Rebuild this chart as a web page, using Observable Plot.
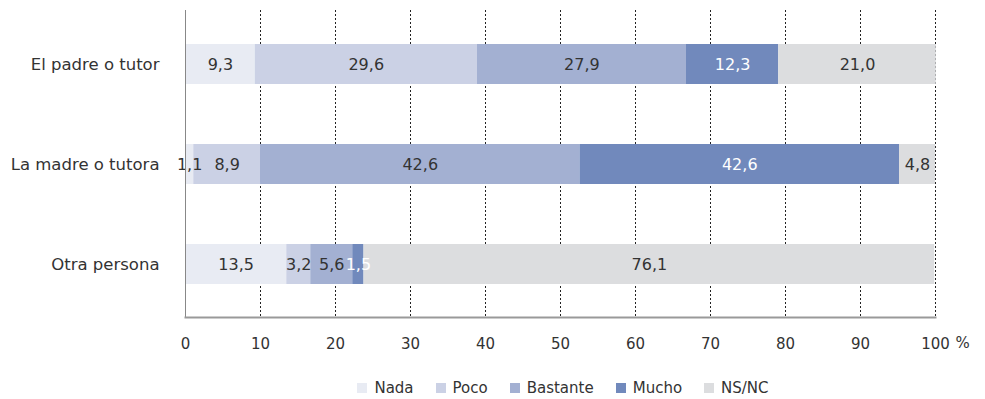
<!DOCTYPE html>
<html><head><meta charset="utf-8">
<script src="https://cdn.jsdelivr.net/npm/d3@7"></script>
<script src="https://cdn.jsdelivr.net/npm/@observablehq/plot@0.6"></script>
<style>
body{margin:0;background:#fff;font-family:"DejaVu Sans",Verdana,sans-serif;position:relative;width:985px;height:399px;overflow:hidden;}
#legend{position:absolute;left:0;top:378px;width:985px;display:flex;justify-content:center;box-sizing:border-box;padding-left:141px;font-family:"DejaVu Sans",Verdana,sans-serif;font-size:15px;color:#333;line-height:20px;gap:22px;}
#legend span{display:inline-flex;align-items:center;}
#legend i{display:inline-block;width:10px;height:10px;margin-right:7px;}
</style></head>
<body><div id="chart"></div><div id="legend"></div>
<script>
const groups = ["El padre o tutor", "La madre o tutora", "Otra persona"];
const categories = ["Nada", "Poco", "Bastante", "Mucho", "NS/NC"];
const colors = ["#e8ebf3", "#cbd1e5", "#a3b0d2", "#7189bc", "#dcdddf"];
const padre = [9.3, 29.6, 27.9, 12.3, 21.0];
const madre = [1.1, 8.9, 42.6, 42.6, 4.8];
const otra = [13.5, 3.2, 5.6, 1.5, 76.1];
const xTicks = [0,10,20,30,40,50,60,70,80,90,100];

const series = [padre, madre, otra];
const data = [];
groups.forEach((g, gi) => categories.forEach((c, ci) => data.push({who: g, cat: c, value: series[gi][ci]})));
const fmt = v => v.toFixed(1).replace(".", ",");

const plot = Plot.plot({
  width: 985, height: 358,
  marginLeft: 185, marginRight: 50, marginTop: 10, marginBottom: 41,
  style: {fontFamily: '"DejaVu Sans", Verdana, sans-serif', fontSize: "16px", color: "#333"},
  x: {domain: [0, 100], label: null},
  y: {domain: groups, paddingInner: 0.6, paddingOuter: 0.32, label: null},
  color: {domain: categories, range: colors},
  marks: [
    Plot.gridX(xTicks.filter(d => d > 0), {stroke: "#222", strokeOpacity: 1, strokeDasharray: "2,2", strokeWidth: 1}),
    Plot.barX(data, Plot.stackX({x: "value", y: "who", fill: "cat", order: categories})),
    Plot.text(data, Plot.stackX({x: "value", y: "who", z: "cat", order: categories,
      text: d => fmt(d.value), fill: d => d.cat === "Mucho" ? "#fff" : "#333", fontSize: 16})),
    Plot.frame({anchor: "left", stroke: "#888"}),
    Plot.frame({anchor: "bottom", stroke: "#999", strokeWidth: 2}),
    Plot.axisY({tickSize: 0, tickPadding: 26, fontSize: 16.5, fill: "#333"}),
    Plot.axisX(xTicks, {tickSize: 0, tickPadding: 21, fontSize: 15, fill: "#333", label: null}),
    Plot.text(["%"], {x: [100], frameAnchor: "bottom", lineAnchor: "middle", dy: 26, dx: 27, fill: "#333", fontSize: 15})
  ]
});
document.getElementById("chart").appendChild(plot);

const legend = document.getElementById("legend");
categories.forEach((c, i) => {
  const s = document.createElement("span");
  s.innerHTML = `<i style="background:${colors[i]}"></i>${c}`;
  legend.appendChild(s);
});
</script></body></html>
